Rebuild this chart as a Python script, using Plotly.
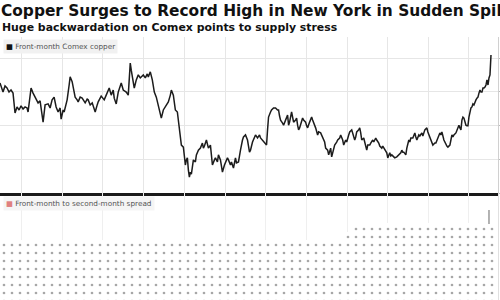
import pandas as pd
import plotly.graph_objects as go

start_date = "2012-06-20"

# day offsets from start_date and front-month Comex copper price ($/lb)
copper_days = [0,18,27,45,63,81,99,117,135,153,171,189,207,225,243,252,270,279,297,306,324,342,360,387,405,432,450,468,486,504,522,540,549,567,576,603,621,630,648,657,675,693,702,720,738,765,783,792,810,828,855,873,882,909,936,954,963,981,999,1017,1026,1044,1062,1080,1089,1107,1134,1152,1161,1170,1179,1188,1206,1224,1242,1260,1269,1287,1305,1323,1332,1350,1368,1386,1404,1422,1440,1449,1467,1494,1512,1530,1539,1557,1575,1593,1602,1620,1629,1647,1656,1665,1674,1683,1692,1701,1710,1719,1737,1755,1764,1782,1800,1818,1827,1836,1854,1872,1890,1899,1908,1926,1935,1953,1962,1980,1998,2016,2025,2043,2052,2070,2079,2097,2115,2124,2142,2151,2160,2178,2187,2205,2223,2241,2250,2268,2277,2295,2313,2331,2340,2358,2367,2385,2394,2403,2412,2430,2439,2457,2475,2493,2502,2511,2520,2538,2547,2565,2574,2583,2592,2601,2619,2628,2637,2655,2664,2673,2682,2691,2700,2718,2727,2745,2754,2763,2781,2790,2799,2808,2826,2835,2853,2862,2880,2898,2916,2925,2943,2952,2961,2970,2979,2997,3006,3024,3033,3051,3060,3078,3087,3105,3114,3132,3141,3159,3168,3186,3195,3204,3222,3231,3240,3249,3267,3276,3294,3303,3321,3330,3348,3357,3375,3384,3402,3411,3429,3438,3456,3474,3483,3492,3501,3510,3519,3537,3546,3564,3573,3591,3600,3609,3618,3627,3645,3654,3672,3681,3690,3708,3717,3726,3735,3744,3762,3771,3789,3798,3816,3834,3843,3852,3870,3879,3888,3906,3915,3933,3942,3951,3960,3969,3987,4005,4014,4023,4032,4041,4050,4059,4068,4077,4095,4104,4122,4131,4140,4149,4158,4167,4176,4185,4194,4203,4212,4221,4230,4239,4248,4257,4266,4275,4284,4293,4302,4311,4320,4329,4338,4347,4356,4365,4374,4383,4392,4401,4410]
copper_price = [4.26,4.11,3.99,4.17,4.11,3.99,4.05,3.96,3.37,3.55,3.46,3.58,3.49,3.55,3.52,3.40,3.90,4.11,3.96,3.90,3.76,3.67,3.73,3.10,3.61,3.64,3.52,3.76,3.84,3.55,3.40,3.52,3.19,3.46,3.40,3.76,4.20,4.44,4.30,4.17,3.84,3.76,3.70,3.84,3.81,3.67,3.78,3.76,3.61,3.67,3.40,3.61,3.70,3.87,3.76,3.90,3.99,4.11,3.90,4.05,3.81,3.64,3.99,4.17,4.26,4.05,3.99,3.90,4.35,4.85,4.64,4.41,4.11,4.35,4.50,4.41,4.44,4.50,4.41,4.53,4.44,4.59,4.35,3.99,3.84,3.58,3.40,3.22,3.46,3.61,3.70,3.90,4.05,3.90,3.46,3.40,3.16,2.57,2.42,2.36,2.13,1.83,1.98,2.04,1.68,1.47,1.62,1.56,1.98,1.92,2.13,2.27,2.33,2.48,2.33,2.39,2.57,2.33,2.42,2.13,1.83,1.98,2.04,1.92,2.13,1.98,1.62,1.83,1.92,2.04,1.98,1.83,1.92,1.74,2.04,1.89,1.92,2.13,2.27,2.57,2.66,2.72,2.57,2.21,2.27,2.51,2.57,2.72,2.63,2.72,2.63,2.57,2.51,2.48,2.42,2.87,3.25,3.40,3.46,3.52,3.52,3.46,3.46,3.28,3.16,3.07,3.01,3.16,3.22,3.31,3.01,3.10,3.40,3.22,3.10,3.16,3.22,3.01,2.87,2.93,3.01,3.22,3.16,3.10,2.99,2.93,3.10,3.22,3.25,3.16,3.01,2.93,2.72,2.81,2.78,2.63,2.51,2.33,2.27,2.13,2.27,2.33,2.07,2.27,2.42,2.51,2.57,2.63,2.72,2.57,2.42,2.57,2.51,2.72,2.81,2.87,2.78,2.57,2.66,2.81,2.87,2.93,2.78,2.57,2.63,2.51,2.27,2.42,2.42,2.48,2.57,2.51,2.63,2.57,2.48,2.39,2.33,2.39,2.27,2.19,2.04,2.13,2.19,2.10,2.13,2.07,2.04,2.07,2.10,2.13,2.19,2.27,2.21,2.21,2.13,2.33,2.57,2.51,2.63,2.63,2.69,2.78,2.66,2.57,2.72,2.69,2.78,2.69,2.87,2.93,2.81,2.72,2.57,2.51,2.42,2.48,2.48,2.63,2.72,2.78,2.72,2.81,2.57,2.42,2.39,2.36,2.39,2.42,2.57,2.72,2.66,2.72,2.78,2.87,3.01,2.93,2.87,3.16,3.25,3.22,3.10,3.01,2.99,2.99,3.25,3.46,3.52,3.55,3.64,3.61,3.70,3.76,3.81,3.84,3.96,4.05,3.99,3.99,4.11,4.11,4.14,4.20,4.35,4.20,4.41,4.50,5.09]
assert len(copper_days) == len(copper_price)

# front-month to second-month spread (step series) and final spike
spread_days = [0, 3105, 3168, 4473]
spread_vals = [0.60, 0.68, 0.77, 0.77]
spike_days = [4392, 4392]
spike_vals = [0.76, 0.90]

title = "Copper Surges to Record High in New York in Sudden Spike"
subtitle = "Huge backwardation on Comex points to supply stress"
legend_top = "Front-month Comex copper"
legend_bottom = "Front-month to second-month spread"

t0 = pd.Timestamp(start_date)
cx = t0 + pd.to_timedelta(copper_days, unit="D")
sx = t0 + pd.to_timedelta(spread_days, unit="D")
kx = t0 + pd.to_timedelta(spike_days, unit="D")
x_end = t0 + pd.Timedelta(days=4473)

fig = go.Figure()
fig.add_trace(go.Scatter(x=cx, y=copper_price, mode="lines",
                         line=dict(color="#1c1c1c", width=1.5),
                         xaxis="x", yaxis="y", showlegend=False))
fig.add_trace(go.Scatter(x=sx, y=spread_vals, mode="lines", line_shape="hv",
                         line=dict(width=0), fill="tozeroy", fillcolor="white",
                         fillpattern=dict(shape=".", fgcolor="#505050", bgcolor="white",
                                          size=8, solidity=0.09),
                         xaxis="x2", yaxis="y2", showlegend=False))
fig.add_trace(go.Scatter(x=kx, y=spike_vals, mode="lines",
                         line=dict(color="#9a9a9a", width=1.5),
                         xaxis="x2", yaxis="y2", showlegend=False))

top_lo, top_hi = (300 - 193) / 300, (300 - 37) / 300
grid = "#e6e6e6"
fig.update_layout(
    width=500, height=300,
    margin=dict(l=0, r=2, t=0, b=0),
    paper_bgcolor="white", plot_bgcolor="white",
    xaxis=dict(domain=[0, 1], anchor="y", range=[t0, x_end], type="date",
               showgrid=True, gridcolor=grid, gridwidth=1,
               dtick="M12", tick0="2013-01-01", showticklabels=False, ticks="",
               showline=True, linecolor="#1a1a1a", linewidth=3, zeroline=False),
    yaxis=dict(domain=[top_lo, top_hi], anchor="x", range=[1, 1 + 156 / 33.75],
               side="right", dtick=1, tick0=1, showgrid=True, gridcolor=grid,
               showticklabels=False, ticks="outside", ticklen=3, tickcolor="#bbbbbb",
               showline=True, linecolor="#d0d0d0", linewidth=1, zeroline=False),
    xaxis2=dict(domain=[0, 1], anchor="y2", range=[t0, x_end], type="date",
                showgrid=True, gridcolor="#efefef", dtick="M12", tick0="2013-01-01",
                showticklabels=False, ticks="", showline=False, zeroline=False),
    yaxis2=dict(domain=[0, top_lo], anchor="x2", range=[0, 1.07], side="right",
                showgrid=False, showticklabels=False, ticks="",
                showline=True, linecolor="#e0e0e0", zeroline=False),
    annotations=[
        dict(text="<b>" + title + "</b>", xref="paper", yref="paper", x=-0.002, y=1.0,
             xanchor="left", yanchor="top", showarrow=False,
             font=dict(family="DejaVu Sans", size=15.4, color="#111111")),
        dict(text="<b>" + subtitle + "</b>", xref="paper", yref="paper", x=0.0, y=0.935,
             xanchor="left", yanchor="top", showarrow=False,
             font=dict(family="DejaVu Sans", size=10.9, color="#111111")),
        dict(text="<span style='color:#111'>■</span> " + legend_top, xref="paper", yref="paper",
             x=0.006, y=(300 - 46) / 300, xanchor="left", yanchor="middle", showarrow=False,
             bgcolor="#f1f1f1", borderpad=2,
             font=dict(family="DejaVu Sans", size=7.3, color="#555555")),
        dict(text="<span style='color:#e08080'>■</span> " + legend_bottom, xref="paper", yref="paper",
             x=0.006, y=(300 - 204) / 300, xanchor="left", yanchor="middle", showarrow=False,
             bgcolor="#f5f5f5", borderpad=2,
             font=dict(family="DejaVu Sans", size=7.3, color="#555555")),
    ],
)

fig.write_html("out.html")
